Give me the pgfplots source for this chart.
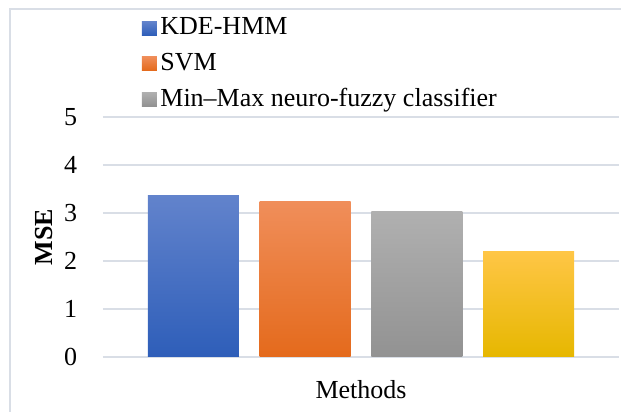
\documentclass[border=0pt]{standalone}
\usepackage{fontspec}
\setmainfont{Liberation Serif}
\usepackage{pgfplots}
\pgfplotsset{compat=1.18}
\definecolor{gridc}{RGB}{217,222,230}
\definecolor{bluet}{RGB}{98,131,204}
\definecolor{blueb}{RGB}{46,94,185}
\definecolor{oranget}{RGB}{240,142,90}
\definecolor{orangeb}{RGB}{228,106,28}
\definecolor{grayt}{RGB}{176,176,176}
\definecolor{grayb}{RGB}{146,146,146}
\definecolor{yellowt}{RGB}{255,198,70}
\definecolor{yellowm}{RGB}{255,196,0}
\definecolor{yellowb}{RGB}{230,183,0}
\pgfplotsset{myleg/.style={legend image code/.code={\fill[##1] (0pt,-7pt) rectangle (15pt,7pt);}}}
\begin{document}
\fontsize{26pt}{31pt}\selectfont
\begin{tikzpicture}
\useasboundingbox (0pt,0pt) rectangle (621pt,412pt);
\draw[gridc, line width=1.5pt] (10pt,0pt) -- (10pt,403pt) -- (621pt,403pt);
\begin{axis}[
  at={(103pt,55pt)}, anchor=south west,
  scale only axis, width=516pt, height=240pt,
  xmin=-0.81, xmax=3.81, ymin=0, ymax=5,
  ytick={0,1,2,3,4,5}, xtick=\empty,
  /pgf/number format/assume math mode=true,
  ymajorgrids, grid style={gridc, line width=1.5pt},
  axis line style={draw=none},
  major tick length=0pt,
  yticklabel style={xshift=-17pt},
  ybar, bar width=91pt, bar shift=0pt,
  xlabel={Methods},
  ylabel={\textbf{MSE}},
  xlabel style={at={(axis description cs:0.5,-0.135)}, anchor=center},
  ylabel style={at={(axis description cs:-0.1143,0.5)}, anchor=center, rotate=0},
  legend style={at={(0.075,1.42)}, anchor=north west, draw=none, fill=none,
    inner sep=0pt, row sep=11pt, nodes={inner sep=1.5pt},
    /tikz/every odd column/.append style={column sep=2pt}},
  legend cell align=left,
]
\addplot[draw=none, top color=bluet, bottom color=blueb, myleg] coordinates {(0,3.37)};
\addlegendentry{KDE-HMM}
\addplot[draw=none, top color=oranget, bottom color=orangeb, myleg] coordinates {(1,3.24)};
\addlegendentry{SVM}
\addplot[draw=none, top color=grayt, bottom color=grayb, myleg] coordinates {(2,3.03)};
\addlegendentry{Min--Max neuro-fuzzy classifier}
\addplot[draw=none, top color=yellowt, middle color=yellowm, bottom color=yellowb, forget plot] coordinates {(3,2.20)};
\end{axis}
\end{tikzpicture}
\end{document}
